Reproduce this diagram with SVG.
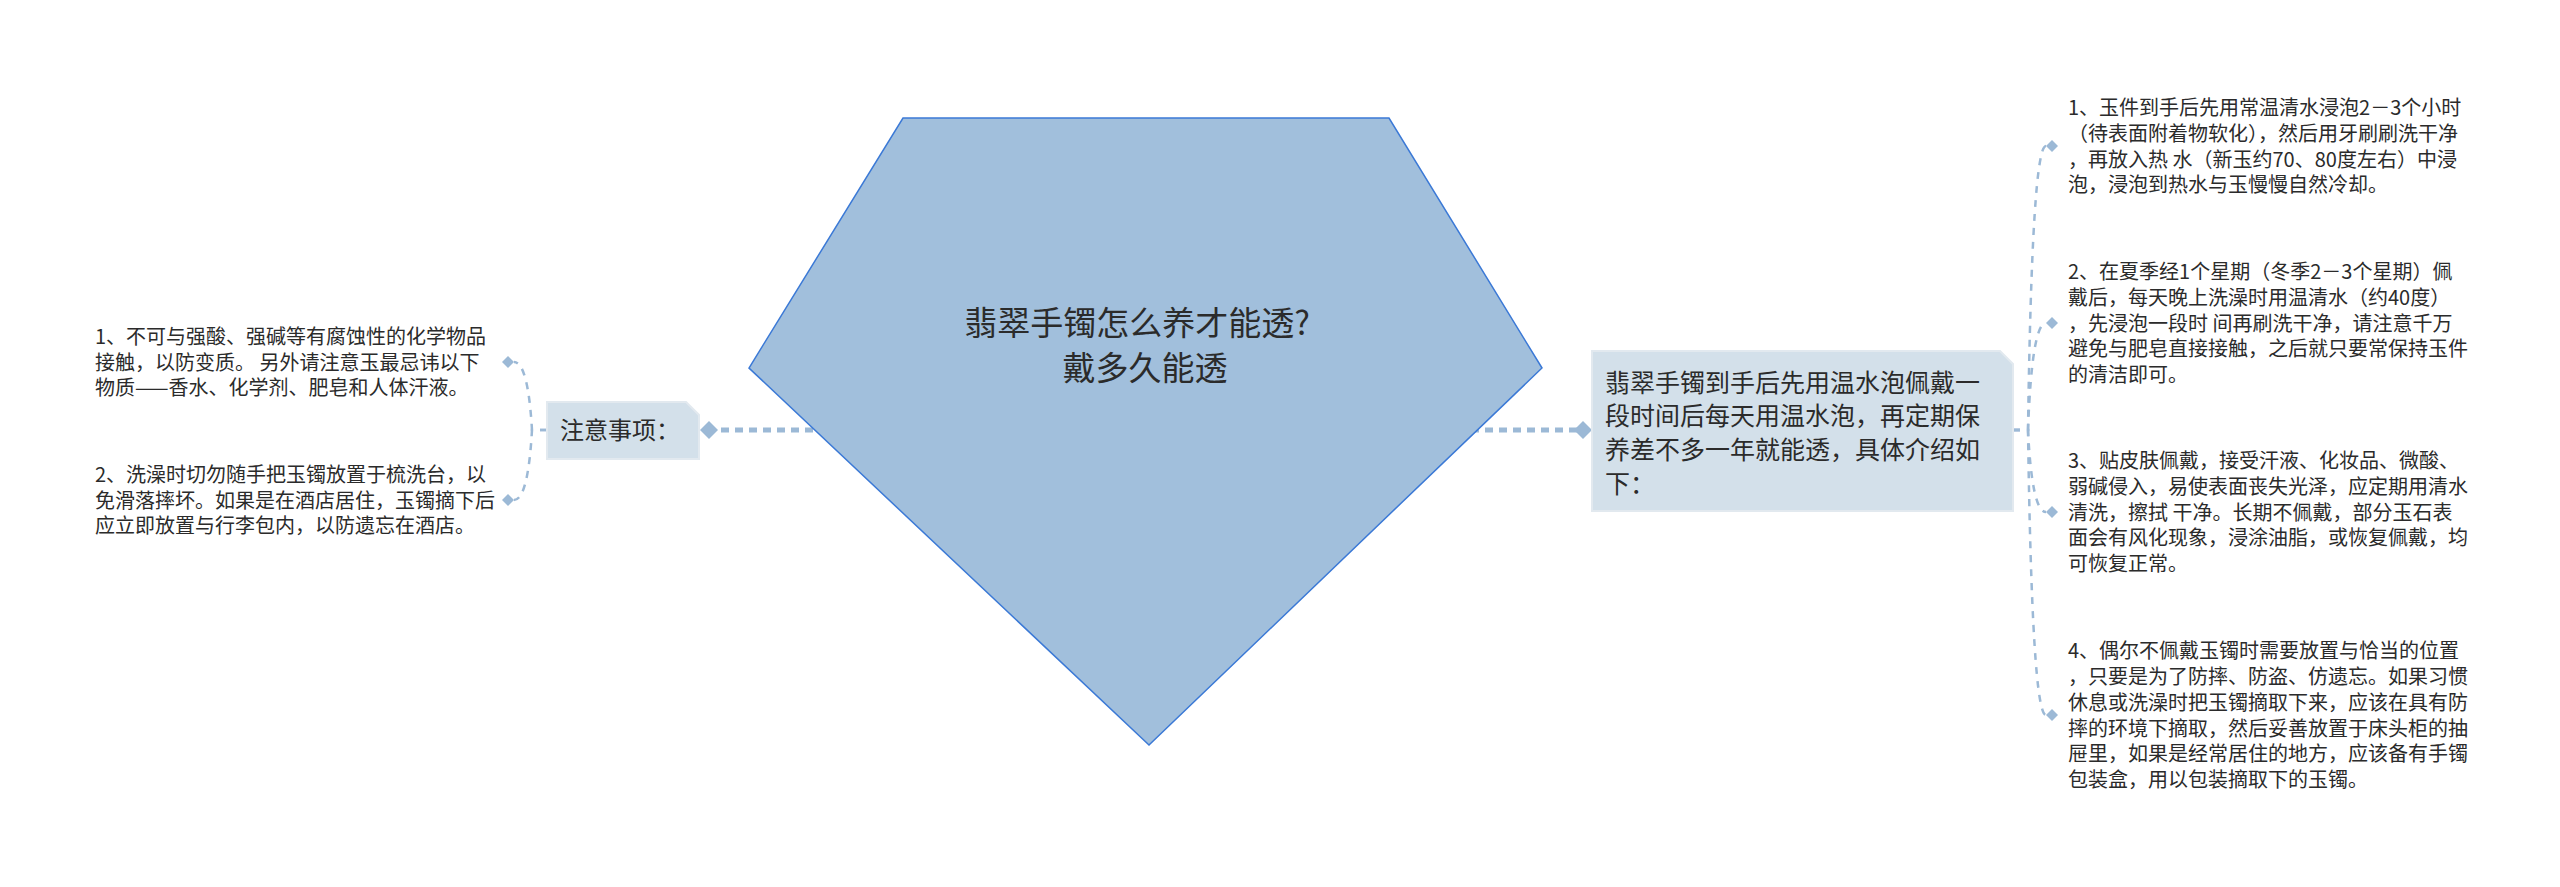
<svg xmlns="http://www.w3.org/2000/svg" width="2560" height="887" viewBox="0 0 2560 887">
<defs>
<style>
.t{font-family:"Noto Sans CJK SC","Liberation Sans",sans-serif;fill:#2b2b2b}
.leaf{font-size:20px}
.main{font-size:25px}
.thick{fill:none;stroke:#9cb9d6;stroke-width:5;stroke-dasharray:8 6}
.thin{fill:none;stroke:#9cb9d6;stroke-width:2.5;stroke-dasharray:7 7}
.dia{fill:#9cb9d6}
.box{fill:#d3e0ea;stroke:#e2e9ef;stroke-width:2}
</style>
</defs>
<rect width="2560" height="887" fill="#ffffff"/>
<g id="connectors">
<path class="thick" d="M1149 430 H709"/>
<path class="thick" d="M1149 430 H1583"/>
<path class="thin" d="M547 430 H532 Q528 362 514 362"/>
<path class="thin" d="M547 430 H532 Q528 500 514 500"/>
<path class="thin" d="M2013 430 H2028 Q2032 146 2046 146"/>
<path class="thin" d="M2013 430 H2028 Q2032 323 2046 323"/>
<path class="thin" d="M2013 430 H2028 Q2032 512 2046 512"/>
<path class="thin" d="M2013 430 H2028 Q2032 715 2046 715"/>
<path class="dia" d="M709 421 L718 430 L709 439 L700 430 Z"/>
<path class="dia" d="M1583 421 L1592 430 L1583 439 L1574 430 Z"/>
<path class="dia" d="M508 356 L514 362 L508 368 L502 362 Z"/>
<path class="dia" d="M508 494 L514 500 L508 506 L502 500 Z"/>
<path class="dia" d="M2052 140 L2058 146 L2052 152 L2046 146 Z"/>
<path class="dia" d="M2052 317 L2058 323 L2052 329 L2046 323 Z"/>
<path class="dia" d="M2052 506 L2058 512 L2052 518 L2046 512 Z"/>
<path class="dia" d="M2052 709 L2058 715 L2052 721 L2046 715 Z"/>
</g>
<g id="central">
<polygon points="903,118 1389,118 1542,368 1149,745 749,368" fill="#a1bfdc" stroke="#3b79d6" stroke-width="1.5"/>
<text class="t" font-size="33" text-anchor="middle"><tspan x="1137" y="334.5">翡翠手镯怎么养才能透?</tspan><tspan x="1145" y="379.5">戴多久能透</tspan></text>
</g>
<g id="node-notice">
<path class="box" d="M547 402 H686 L699 415 V459 H547 Z"/>
<text class="t" font-size="24" x="560" y="439">注意事项：</text>
</g>
<g id="node-intro">
<path class="box" d="M1592 351 H2000 L2013 364 V511 H1592 Z"/>
<text class="t main"><tspan x="1605" y="391.5">翡翠手镯到手后先用温水泡佩戴一</tspan><tspan x="1605" y="425.2">段时间后每天用温水泡，再定期保</tspan><tspan x="1605" y="458.9">养差不多一年就能透，具体介绍如</tspan><tspan x="1605" y="492.6">下：</tspan></text>
</g>
<g id="leaf-left-1">
<text class="t leaf"><tspan x="95" y="343.9">1、不可与强酸、强碱等有腐蚀性的化学物品</tspan><tspan x="95" y="369.6">接触，以防变质。 另外请注意玉最忌讳以下</tspan><tspan x="95" y="395.3">物质——香水、化学剂、肥皂和人体汗液。</tspan></text>
</g>
<g id="leaf-left-2">
<text class="t leaf"><tspan x="95" y="481.9">2、洗澡时切勿随手把玉镯放置于梳洗台，以</tspan><tspan x="95" y="507.6">免滑落摔坏。如果是在酒店居住，玉镯摘下后</tspan><tspan x="95" y="533.3">应立即放置与行李包内，以防遗忘在酒店。</tspan></text>
</g>
<g id="leaf-right-1">
<text class="t leaf"><tspan x="2068" y="115.1">1、玉件到手后先用常温清水浸泡2－3个小时</tspan><tspan x="2068" y="140.8">（待表面附着物软化），然后用牙刷刷洗干净</tspan><tspan x="2068" y="166.5">，再放入热 水（新玉约70、80度左右）中浸</tspan><tspan x="2068" y="192.2">泡，浸泡到热水与玉慢慢自然冷却。</tspan></text>
</g>
<g id="leaf-right-2">
<text class="t leaf"><tspan x="2068" y="279.2">2、在夏季经1个星期（冬季2－3个星期）佩</tspan><tspan x="2068" y="304.9">戴后，每天晚上洗澡时用温清水（约40度）</tspan><tspan x="2068" y="330.6">，先浸泡一段时 间再刷洗干净，请注意千万</tspan><tspan x="2068" y="356.3">避免与肥皂直接接触，之后就只要常保持玉件</tspan><tspan x="2068" y="382">的清洁即可。</tspan></text>
</g>
<g id="leaf-right-3">
<text class="t leaf"><tspan x="2068" y="468.2">3、贴皮肤佩戴，接受汗液、化妆品、微酸、</tspan><tspan x="2068" y="493.9">弱碱侵入，易使表面丧失光泽，应定期用清水</tspan><tspan x="2068" y="519.6">清洗，擦拭 干净。长期不佩戴，部分玉石表</tspan><tspan x="2068" y="545.3">面会有风化现象，浸涂油脂，或恢复佩戴，均</tspan><tspan x="2068" y="571">可恢复正常。</tspan></text>
</g>
<g id="leaf-right-4">
<text class="t leaf"><tspan x="2068" y="658.4">4、偶尔不佩戴玉镯时需要放置与恰当的位置</tspan><tspan x="2068" y="684.1">，只要是为了防摔、防盗、仿遗忘。如果习惯</tspan><tspan x="2068" y="709.8">休息或洗澡时把玉镯摘取下来，应该在具有防</tspan><tspan x="2068" y="735.5">摔的环境下摘取，然后妥善放置于床头柜的抽</tspan><tspan x="2068" y="761.2">屉里，如果是经常居住的地方，应该备有手镯</tspan><tspan x="2068" y="786.9">包装盒，用以包装摘取下的玉镯。</tspan></text>
</g>
</svg>
